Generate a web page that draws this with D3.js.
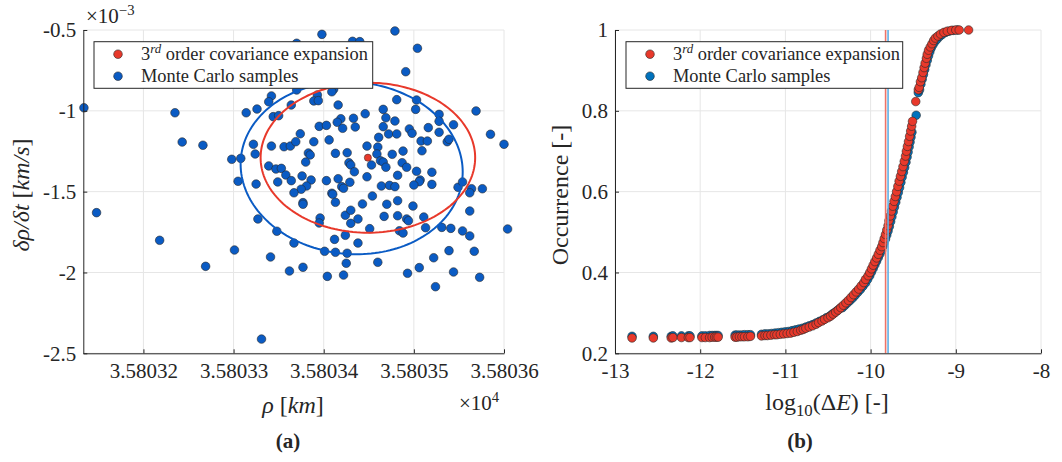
<!DOCTYPE html>
<html>
<head>
<meta charset="utf-8">
<script src="https://cdn.jsdelivr.net/npm/d3@7"></script>
<style>
  body { margin: 0; background: #fff; }
  svg text { font-family: "Liberation Serif", "Times New Roman", serif; fill: #262626; }
</style>
</head>
<body>
<svg id="fig" width="1062" height="462"></svg>
<script>
// ---------- panel (a): Monte Carlo samples of range and range-rate ----------
// rho in km, drho/dt in units of 1e-3 km/s
const rhoMC = [
  35803.398, 35803.479, 35803.370, 35803.432, 35803.440, 35803.504, 35803.491, 35803.370, 35803.411, 35803.409,
  35803.342, 35803.339, 35803.393, 35803.389, 35803.394, 35803.416, 35803.364, 35803.481, 35803.503, 35803.502,
  35803.569, 35803.134, 35803.235, 35803.314, 35803.326, 35803.344, 35803.350, 35803.446, 35803.466, 35803.469,
  35803.479, 35803.433, 35803.419, 35803.415, 35803.421, 35803.435, 35803.395, 35803.403, 35803.466, 35803.495,
  35803.498, 35803.516, 35803.528, 35803.528, 35803.544, 35803.528, 35803.585, 35803.600, 35803.243, 35803.266,
  35803.322, 35803.324, 35803.342, 35803.356, 35803.363, 35803.369, 35803.374, 35803.389, 35803.406, 35803.448,
  35803.460, 35803.461, 35803.472, 35803.481, 35803.488, 35803.508, 35803.515, 35803.509, 35803.537, 35803.539,
  35803.459, 35803.476, 35803.413, 35803.426, 35803.383, 35803.385, 35803.298, 35803.308, 35803.428, 35803.430,
  35803.434, 35803.453, 35803.463, 35803.466, 35803.469, 35803.487, 35803.492, 35803.503, 35803.507, 35803.506,
  35803.500, 35803.520, 35803.520, 35803.482, 35803.448, 35803.464, 35803.473, 35803.479, 35803.339, 35803.347,
  35803.353, 35803.358, 35803.349, 35803.364, 35803.376, 35803.380, 35803.386, 35803.381, 35803.375, 35803.367,
  35803.325, 35803.305, 35803.403, 35803.416, 35803.420, 35803.422, 35803.429, 35803.409, 35803.410, 35803.454,
  35803.413, 35803.377, 35803.377, 35803.443, 35803.470, 35803.482, 35803.499, 35803.467, 35803.482, 35803.492,
  35803.494, 35803.511, 35803.513, 35803.424, 35803.430, 35803.430, 35803.438, 35803.396, 35803.395, 35803.451,
  35803.484, 35803.488, 35803.531, 35803.541, 35803.554, 35803.562, 35803.549, 35803.554, 35803.564, 35803.576,
  35803.562, 35803.562, 35803.604, 35803.327, 35803.348, 35803.367, 35803.412, 35803.424, 35803.438, 35803.401,
  35803.413, 35803.426, 35803.425, 35803.460, 35803.539, 35803.567, 35803.522, 35803.301, 35803.341, 35803.377,
  35803.362, 35803.404, 35803.422, 35803.493, 35803.506, 35803.544, 35803.573, 35803.524, 35803.148, 35803.218,
  35803.269, 35803.331
];
const drhoMC = [
  -0.527, -0.506, -0.582, -0.570, -0.572, -0.613, -0.758, -0.871, -0.867, -0.882,
  -0.908, -0.944, -0.902, -0.939, -0.937, -0.964, -0.964, -0.931, -0.933, -0.991,
  -1.001, -0.981, -1.012, -1.012, -0.989, -1.036, -1.030, -1.018, -0.991, -1.043,
  -1.063, -1.046, -1.049, -1.071, -1.108, -1.100, -1.096, -1.090, -1.098, -1.112,
  -1.139, -1.104, -1.022, -1.065, -1.086, -1.133, -1.145, -1.207, -1.193, -1.213,
  -1.207, -1.267, -1.218, -1.222, -1.218, -1.191, -1.142, -1.191, -1.180, -1.218,
  -1.224, -1.164, -1.143, -1.143, -1.249, -1.187, -1.187, -1.247, -1.191, -1.176,
  -1.267, -1.269, -1.263, -1.259, -1.261, -1.273, -1.300, -1.294, -1.321, -1.335,
  -1.377, -1.335, -1.309, -1.317, -1.349, -1.321, -1.349, -1.374, -1.428, -1.438,
  -1.459, -1.380, -1.455, -1.399, -1.408, -1.465, -1.461, -1.469, -1.341, -1.360,
  -1.356, -1.397, -1.440, -1.432, -1.403, -1.317, -1.428, -1.465, -1.485, -1.507,
  -1.453, -1.436, -1.432, -1.420, -1.469, -1.479, -1.442, -1.510, -1.516, -1.527,
  -1.566, -1.568, -1.578, -1.576, -1.578, -1.556, -1.589, -1.653, -1.649, -1.669,
  -1.680, -1.657, -1.723, -1.646, -1.615, -1.696, -1.669, -1.663, -1.694, -1.729,
  -1.742, -1.756, -1.721, -1.727, -1.743, -1.774, -1.473, -1.440, -1.482, -1.482,
  -1.507, -1.620, -1.731, -1.669, -1.745, -1.818, -1.795, -1.770, -1.818, -1.869,
  -1.875, -1.881, -1.943, -1.937, -1.865, -1.869, -1.909, -1.861, -1.904, -1.968,
  -1.991, -2.024, -2.016, -2.005, -1.970, -1.997, -2.030, -2.088, -1.630, -1.801,
  -1.962, -2.412
];
// 3rd order covariance expansion: mean and ellipse half-axis vectors [d rho, d drho]
const meanCov3 = [35803.449, -1.290];
const ellCov3U = [0.119, 0.000];
const ellCov3W = [0.000, -0.464];
// Monte Carlo sample ellipse
const meanMC = [35803.431, -1.354];
const ellMCU = [0.1229, -0.060];
const ellMCW = [-0.0083, -0.530];

const rhoTicks = [35803.2, 35803.3, 35803.4, 35803.5, 35803.6];
const drhoTicks = [-0.5, -1, -1.5, -2, -2.5];

// ---------- panel (b): empirical distribution of log10(dE) ----------
const logE3rd = [
  -12.80, -12.55, -12.34, -12.32, -12.22, -12.14, -12.12, -11.98, -11.94, -11.89,
  -11.86, -11.83, -11.81, -11.79, -11.59, -11.57, -11.54, -11.51, -11.48, -11.44,
  -11.41, -11.28, -11.24, -11.21, -11.17, -11.13, -11.10, -11.06, -11.02, -10.98,
  -10.94, -10.90, -10.86, -10.82, -10.79, -10.76, -10.72, -10.68, -10.64, -10.61,
  -10.57, -10.54, -10.50, -10.47, -10.44, -10.41, -10.38, -10.35, -10.32, -10.29,
  -10.26, -10.23, -10.20, -10.17, -10.14, -10.11, -10.08, -10.06, -10.03, -10.01,
  -9.99, -9.97, -9.95, -9.93, -9.91, -9.89, -9.87, -9.855, -9.84, -9.825,
  -9.81, -9.795, -9.785, -9.77, -9.755, -9.74, -9.725, -9.71, -9.695, -9.68,
  -9.665, -9.65, -9.635, -9.62, -9.605, -9.59, -9.58, -9.568, -9.555, -9.542,
  -9.53, -9.518, -9.508, -9.47, -9.44, -9.43, -9.415, -9.40, -9.385, -9.372,
  -9.36, -9.345, -9.335, -9.32, -9.30, -9.28, -9.26, -9.24, -9.21, -9.18,
  -9.14, -9.10, -9.05, -9.00, -8.96, -8.85
];
const occ3rd = [
  0.238, 0.238, 0.238, 0.239, 0.239, 0.239, 0.239, 0.239, 0.239, 0.239,
  0.240, 0.240, 0.240, 0.240, 0.240, 0.240, 0.241, 0.241, 0.241, 0.241,
  0.242, 0.243, 0.244, 0.244, 0.245, 0.246, 0.246, 0.247, 0.248, 0.249,
  0.250, 0.252, 0.254, 0.257, 0.259, 0.262, 0.265, 0.268, 0.272, 0.276,
  0.280, 0.284, 0.288, 0.292, 0.297, 0.302, 0.307, 0.313, 0.319, 0.325,
  0.331, 0.338, 0.345, 0.352, 0.359, 0.367, 0.375, 0.383, 0.392, 0.400,
  0.409, 0.418, 0.427, 0.436, 0.445, 0.455, 0.464, 0.474, 0.484, 0.494,
  0.505, 0.516, 0.528, 0.540, 0.552, 0.564, 0.576, 0.588, 0.600, 0.613,
  0.626, 0.638, 0.650, 0.662, 0.675, 0.688, 0.700, 0.712, 0.724, 0.737,
  0.750, 0.762, 0.774, 0.823, 0.852, 0.858, 0.872, 0.882, 0.895, 0.907,
  0.918, 0.930, 0.940, 0.950, 0.958, 0.966, 0.974, 0.980, 0.985, 0.990,
  0.994, 0.997, 0.999, 1.000, 1.000, 1.000
];
const logEMC = [
  -12.80, -12.55, -12.34, -12.32, -12.22, -12.14, -12.12, -11.98, -11.94, -11.89,
  -11.86, -11.83, -11.81, -11.79, -11.59, -11.57, -11.54, -11.51, -11.48, -11.44,
  -11.41, -11.28, -11.24, -11.20, -11.16, -11.12, -11.08, -11.04, -11.00, -10.96,
  -10.92, -10.88, -10.84, -10.80, -10.76, -10.72, -10.68, -10.64, -10.60, -10.56,
  -10.52, -10.48, -10.45, -10.42, -10.39, -10.36, -10.33, -10.30, -10.27, -10.24,
  -10.21, -10.18, -10.15, -10.12, -10.09, -10.06, -10.035, -10.01, -9.99, -9.97,
  -9.95, -9.93, -9.91, -9.89, -9.87, -9.855, -9.84, -9.825, -9.81, -9.795,
  -9.78, -9.765, -9.75, -9.735, -9.72, -9.705, -9.69, -9.675, -9.66, -9.645,
  -9.63, -9.615, -9.60, -9.585, -9.572, -9.56, -9.548, -9.537, -9.526, -9.515,
  -9.465, -9.44, -9.425, -9.41, -9.395, -9.38, -9.365, -9.35, -9.335, -9.32,
  -9.305, -9.29, -9.27, -9.25, -9.22, -9.19, -9.16, -9.12, -9.08, -9.03,
  -8.98
];
const occMC = [
  0.242, 0.242, 0.242, 0.243, 0.243, 0.243, 0.243, 0.243, 0.243, 0.244,
  0.244, 0.244, 0.244, 0.244, 0.245, 0.245, 0.245, 0.245, 0.246, 0.246,
  0.246, 0.247, 0.248, 0.248, 0.249, 0.250, 0.251, 0.252, 0.253, 0.254,
  0.256, 0.258, 0.260, 0.262, 0.265, 0.268, 0.271, 0.275, 0.279, 0.283,
  0.288, 0.292, 0.297, 0.301, 0.306, 0.311, 0.313, 0.319, 0.325, 0.331,
  0.337, 0.344, 0.351, 0.358, 0.366, 0.374, 0.383, 0.392, 0.401, 0.410,
  0.419, 0.428, 0.437, 0.446, 0.455, 0.465, 0.474, 0.483, 0.493, 0.503,
  0.514, 0.526, 0.538, 0.550, 0.562, 0.574, 0.586, 0.598, 0.610, 0.623,
  0.636, 0.648, 0.660, 0.673, 0.686, 0.698, 0.711, 0.723, 0.735, 0.747,
  0.789, 0.845, 0.852, 0.866, 0.878, 0.890, 0.902, 0.914, 0.925, 0.936,
  0.946, 0.955, 0.963, 0.970, 0.977, 0.984, 0.989, 0.994, 0.997, 0.999,
  1.000
];
// mean log10(dE) of each distribution
const meanLog3rd = -9.824;
const meanLogMC = -9.795;

const logTicks = [-13, -12, -11, -10, -9, -8];
const occTicks = [0.2, 0.4, 0.6, 0.8, 1];

// ---------- styling ----------
const serif = '"Liberation Serif", "Times New Roman", serif';
const ink = "#262626";
const gridCol = "#e6e6e6";
const red = "#e8392b";
const blueA = "#0a5bc4";
const blueB = "#0072bd";
const edge = "#2a2a2a";
const tickFont = 21;
const labelFont = 24;
const legendFont = 18.4;

const svg = d3.select("#fig").attr("font-family", serif);

// ---------- scales ----------
const xL = d3.scaleLinear().domain([35803.1333, 35803.6]).range([83.3, 504]);
const yL = d3.scaleLinear().domain([-2.5, -0.5]).range([353.3, 30]);
const xR = d3.scaleLinear().domain([-13, -8]).range([615, 1041]);
const yR = d3.scaleLinear().domain([0.2, 1]).range([353.3, 30]);

function grid(x, y, xt, yt) {
  const g = svg.append("g");
  g.selectAll(".gx").data(xt).join("line")
    .attr("x1", d => x(d)).attr("x2", d => x(d))
    .attr("y1", y.range()[0]).attr("y2", y.range()[1])
    .attr("stroke", gridCol).attr("stroke-width", 1);
  g.selectAll(".gy").data(yt).join("line")
    .attr("x1", x.range()[0]).attr("x2", x.range()[1])
    .attr("y1", d => y(d)).attr("y2", d => y(d))
    .attr("stroke", gridCol).attr("stroke-width", 1);
}

function axes(x, y, xt, yt, xfmt, yfmt) {
  const gx = svg.append("g")
    .attr("transform", `translate(0,${y.range()[0]})`)
    .call(d3.axisBottom(x).tickValues(xt).tickFormat(xfmt)
      .tickSize(-4).tickSizeOuter(0).tickPadding(10));
  const gy = svg.append("g")
    .attr("transform", `translate(${x.range()[0]},0)`)
    .call(d3.axisLeft(y).tickValues(yt).tickFormat(yfmt)
      .tickSize(-4).tickSizeOuter(0).tickPadding(7));
  [gx, gy].forEach(g => {
    g.attr("color", ink).attr("font-size", tickFont).attr("font-family", serif);
    g.selectAll("text").attr("font-family", serif);
    g.select(".domain").attr("stroke-width", 1);
  });
}

// rich text made of plain / italic / super / subscript runs
function rich(parent, x, y, parts, size, opts = {}) {
  const t = parent.append("text")
    .attr("x", x).attr("y", y)
    .attr("font-size", size)
    .attr("font-family", serif)
    .attr("text-anchor", opts.anchor || "start");
  if (opts.rotate) t.attr("transform", `rotate(${opts.rotate},${x},${y})`);
  if (opts.bold) t.attr("font-weight", "bold");
  parts.forEach(p => {
    const s = t.append("tspan").text(p.t);
    if (p.i) s.attr("font-style", "italic");
    if (p.sup) s.attr("dy", -size * 0.38).attr("font-size", size * 0.7);
    if (p.sub) s.attr("dy", size * 0.25).attr("font-size", size * 0.7);
    if (p.back) s.attr("dy", p.back);
  });
  return t;
}

// ================= panel (a) =================
grid(xL, yL, rhoTicks, drhoTicks);

const ellPath = (c, u, w) => {
  const ts = d3.range(0, 361, 2).map(a => a * Math.PI / 180);
  return d3.line()
    .x(t => xL(c[0] + u[0] * Math.cos(t) + w[0] * Math.sin(t)))
    .y(t => yL(c[1] + u[1] * Math.cos(t) + w[1] * Math.sin(t)))(ts);
};

svg.append("g").selectAll("circle")
  .data(d3.range(rhoMC.length)).join("circle")
  .attr("cx", i => xL(rhoMC[i])).attr("cy", i => yL(drhoMC[i]))
  .attr("r", 4.3)
  .attr("fill", blueA).attr("stroke", edge).attr("stroke-width", 0.6);

svg.append("path").attr("d", ellPath(meanMC, ellMCU, ellMCW))
  .attr("fill", "none").attr("stroke", blueA).attr("stroke-width", 2);
svg.append("path").attr("d", ellPath(meanCov3, ellCov3U, ellCov3W))
  .attr("fill", "none").attr("stroke", red).attr("stroke-width", 2);
svg.append("circle")
  .attr("cx", xL(meanCov3[0])).attr("cy", yL(meanCov3[1])).attr("r", 3.6)
  .attr("fill", red).attr("stroke", edge).attr("stroke-width", 0.5);

axes(xL, yL, rhoTicks, drhoTicks, d => (d / 1e4).toFixed(5), d => String(d));

// exponent labels
rich(svg, 86, 23, [{ t: "×10" }, { t: "−3", sup: true }], tickFont);
rich(svg, 459, 410, [{ t: "×10" }, { t: "4", sup: true }], tickFont);

// axis labels
rich(svg, 293, 413, [{ t: "ρ", i: true }, { t: " [" }, { t: "km", i: true }, { t: "]" }], labelFont, { anchor: "middle" });
rich(svg, 29, 195, [{ t: "δρ/δt", i: true }, { t: " [" }, { t: "km/s", i: true }, { t: "]" }], labelFont, { anchor: "middle", rotate: -90 });
rich(svg, 288, 448, [{ t: "(a)" }], 21, { anchor: "middle", bold: true });

function legend(x0, y0, w, h, blue) {
  const g = svg.append("g");
  g.append("rect").attr("x", x0).attr("y", y0).attr("width", w).attr("height", h)
    .attr("fill", "#fff").attr("stroke", ink).attr("stroke-width", 1);
  const rows = [
    { c: red, parts: [{ t: "3" }, { t: "rd", sup: true, i: true }, { t: " order covariance expansion", back: legendFont * 0.38 }] },
    { c: blue, parts: [{ t: "Monte Carlo samples" }] }
  ];
  rows.forEach((r, k) => {
    const cy = y0 + 12.5 + k * 22;
    g.append("circle").attr("cx", x0 + 24).attr("cy", cy).attr("r", 4.3)
      .attr("fill", r.c).attr("stroke", edge).attr("stroke-width", 0.6);
    rich(g, x0 + 47, cy + 6, r.parts, legendFont);
  });
}
legend(94, 41.7, 278.7, 46.6, blueA);

// ================= panel (b) =================
grid(xR, yR, logTicks, occTicks);

svg.append("g").selectAll("circle")
  .data(d3.range(logEMC.length)).join("circle")
  .attr("cx", i => xR(logEMC[i])).attr("cy", i => yR(occMC[i]))
  .attr("r", 4.3)
  .attr("fill", blueB).attr("stroke", edge).attr("stroke-width", 0.6);

svg.append("g").selectAll("circle")
  .data(d3.range(logE3rd.length)).join("circle")
  .attr("cx", i => xR(logE3rd[i])).attr("cy", i => yR(occ3rd[i]))
  .attr("r", 4.3)
  .attr("fill", red).attr("stroke", edge).attr("stroke-width", 0.6);

svg.append("line")
  .attr("x1", xR(meanLog3rd)).attr("x2", xR(meanLog3rd))
  .attr("y1", yR(0.2)).attr("y2", yR(1))
  .attr("stroke", "#ee7468").attr("stroke-width", 1.6);
svg.append("line")
  .attr("x1", xR(meanLogMC)).attr("x2", xR(meanLogMC))
  .attr("y1", yR(0.2)).attr("y2", yR(1))
  .attr("stroke", "#5fb0e6").attr("stroke-width", 1.6);

axes(xR, yR, logTicks, occTicks, d => String(d), d => String(d));

rich(svg, 827, 410, [{ t: "log" }, { t: "10", sub: true }, { t: "(Δ", back: -labelFont * 0.25 }, { t: "E", i: true }, { t: ")  [-]" }], labelFont, { anchor: "middle" });
rich(svg, 568, 195, [{ t: "Occurrence  [-]" }], labelFont, { anchor: "middle", rotate: -90 });
rich(svg, 800, 448, [{ t: "(b)" }], 21, { anchor: "middle", bold: true });

legend(626, 41.7, 276.7, 46.6, blueB);
</script>
</body>
</html>
